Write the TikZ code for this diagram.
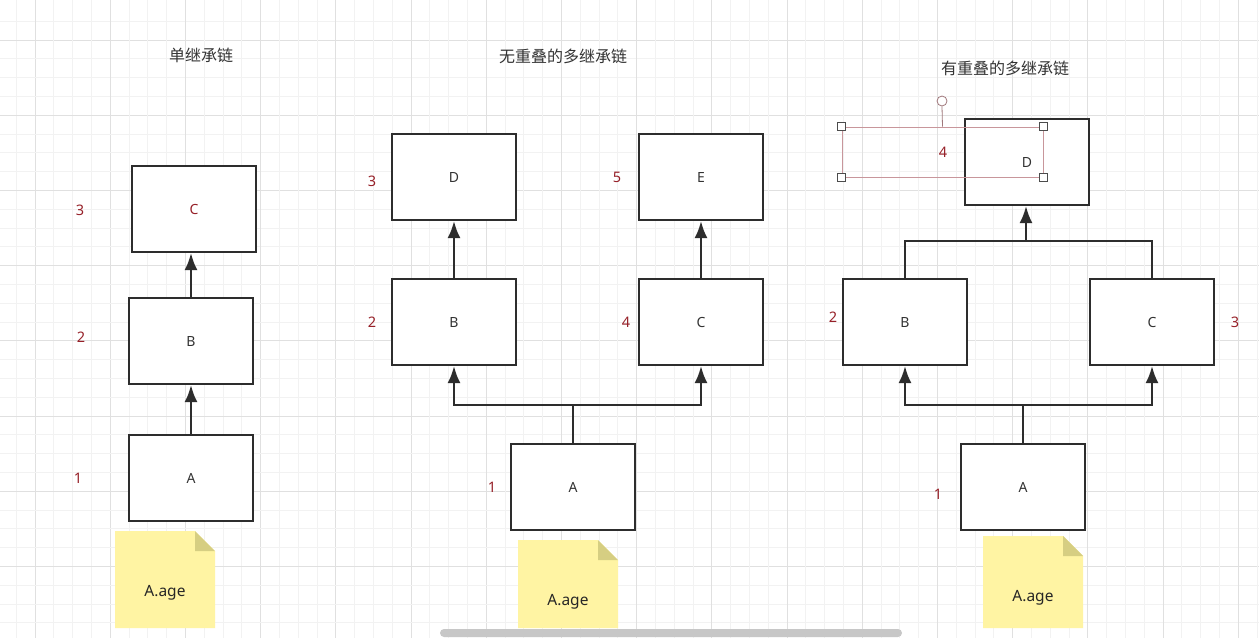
\documentclass[tikz,border=0pt]{standalone}
\usepackage{fontspec}
\setmainfont{Noto Sans}
\newfontfamily\cjk{Noto Sans CJK SC}
\usetikzlibrary{arrows.meta}
\definecolor{numred}{RGB}{150,32,40}
\definecolor{edgegray}{RGB}{45,45,45}
\definecolor{notefill}{RGB}{255,244,163}
\definecolor{notefold}{RGB}{214,206,130}
\definecolor{selpink}{RGB}{200,150,155}

\begin{document}
\begin{tikzpicture}[x=1pt, y=-1pt,
	box/.style={draw=edgegray, line width=2.2pt, fill=white, minimum width=124pt, minimum height=86pt, font=\fontsize{14}{16}\selectfont, text=black!80},
	num/.style={text=numred, font=\fontsize{14.5}{16}\selectfont},
	ttl/.style={font=\cjk\fontsize{16}{18}\selectfont, text=black!80},
	wire/.style={draw=edgegray, line width=2.2pt},
	link/.style={wire, -{Latex[length=17pt, width=13pt]}}]
	\useasboundingbox (0,0) rectangle (1259,638);
	\fill[white] (0,0) rectangle (1259,638);
	% background grid
	\foreach \k in {-1,...,65} {
		\pgfmathtruncatemacro{\mj}{mod(\k+4,4)}
		\ifnum\mj=0 \def\gc{black!12}\else \def\gc{black!5}\fi
		\draw[\gc, line width=1pt] ({35+18.8*\k},0) -- ({35+18.8*\k},638);
		\draw[\gc, line width=1pt] (0,{40+18.8*\k}) -- (1259,{40+18.8*\k});
	}

	% titles
	\node[ttl] (t1) at (201,55) {单继承链};
	\node[ttl] (t2) at (563,56) {无重叠的多继承链};
	\node[ttl] (t3) at (1005,68) {有重叠的多继承链};

	% single chain
	\node[box, text=numred] (sC) at (194,209) {C};
	\node[box] (sB) at (191,341) {B};
	\node[box] (sA) at (191,478) {A};
	\draw[link] (sB.north) -- (sB.north |- sC.south);
	\draw[link] (sA.north) -- (sB.south);
	\node[num] (s3) at (80,210) {3}; \node[num] (s2) at (81,337) {2}; \node[num] (s1) at (78,478) {1};

	% multiple chains, no overlap
	\node[box] (mD) at (454,177) {D};
	\node[box] (mE) at (701,177) {E};
	\node[box] (mB) at (454,322) {B};
	\node[box] (mC) at (701,322) {C};
	\node[box] (mA) at (573,487) {A};
	\coordinate (mj) at (573,405);
	\draw[link] (mB.north) -- (mD.south);
	\draw[link] (mC.north) -- (mE.south);
	\draw[wire] (mA.north) -- (mj);
	\draw[link] (mj) -| (mB.south);
	\draw[link] (mj) -| (mC.south);
	\node[num] (m3) at (372,181) {3}; \node[num] (m5) at (617,177) {5};
	\node[num] (m2) at (372,322) {2}; \node[num] (m4) at (626,322) {4};
	\node[num] (m1) at (492,487) {1};

	% multiple chains, overlap
	\node[box] (oD) at (1027,162) {D};
	\node[box] (oB) at (905,322) {B};
	\node[box] (oC) at (1152,322) {C};
	\node[box] (oA) at (1023,487) {A};
	\coordinate (ou) at (1026,241); \coordinate (oj) at (1023,405);
	\draw[wire] (oB.north) |- (ou) -| (oC.north);
	\draw[link] (ou) -- (ou |- oD.south);
	\draw[wire] (oA.north) -- (oj);
	\draw[link] (oj) -| (oB.south);
	\draw[link] (oj) -| (oC.south);
	\node[num] (o2) at (833,317) {2}; \node[num] (o3) at (1235,322) {3};
	\node[num] (o1) at (938,494) {1};

	% selected label
	\node[draw=selpink, line width=0.8pt, minimum width=201pt, minimum height=50pt, inner sep=0pt] (sel) at (942.5,152) {};
	\node[num] (o4) at (943,152) {4};
	\node[draw=selpink!80!black, circle, line width=0.8pt, fill=white, minimum size=10pt, inner sep=0pt] (rot) at (942,101) {};
	\draw[selpink!80!black, line width=0.8pt] (rot.south) -- (sel.north);
	\foreach \c in {north west, north east, south west, south east}
		\node[draw=black!70, fill=white, line width=0.6pt, minimum size=8pt, inner sep=0pt] at (sel.\c) {};

	% notes
	\foreach \nx/\ny/\nm in {115/531/n1, 518/540/n2, 983/536/n3} {
		\fill[notefill] (\nx,\ny) -- ({\nx+80},\ny) -- ({\nx+100},{\ny+20}) -- ({\nx+100},628) -- (\nx,628) -- cycle;
		\fill[notefold] ({\nx+80},\ny) -- ({\nx+100},{\ny+20}) -- ({\nx+80},{\ny+20}) -- cycle;
		\node[font=\fontsize{15.5}{17}\selectfont, text=black!85] (\nm) at ({\nx+50},{\ny+62}) {A.age};
	}

	% scrollbar
	\fill[black!22, rounded corners=4pt] (440,629) rectangle (902,637);
\end{tikzpicture}
\end{document}
